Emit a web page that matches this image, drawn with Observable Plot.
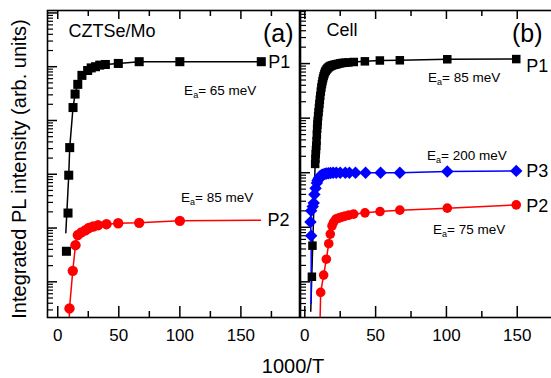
<!DOCTYPE html>
<html><head><meta charset="utf-8">
<script src="https://cdn.jsdelivr.net/npm/d3@7"></script>
<script src="https://cdn.jsdelivr.net/npm/@observablehq/plot@0.6"></script>
<style>
html,body{margin:0;padding:0;background:#fff;overflow:hidden;}
#wrap{position:relative;width:551px;height:378px;overflow:hidden;font-family:"Liberation Sans",Arial,sans-serif;color:#000;}
.panel{position:absolute;top:0;}
#xlab{position:absolute;left:293px;top:356px;transform:translateX(-50%);font-size:20px;line-height:20px;white-space:nowrap;}
#ylabw{position:absolute;left:19px;top:169px;width:0;height:0;}
#ylab{position:absolute;left:0;top:0;transform:translate(-50%,-50%) rotate(-90deg);font-size:20px;line-height:20px;white-space:nowrap;}
</style></head><body>
<div id="wrap">
  <div id="pa" class="panel" style="left:0;width:300px"></div>
  <div id="pb" class="panel" style="left:270px;width:282px"></div>
  <div id="xlab">1000/T</div>
  <div id="ylabw"><div id="ylab">Integrated PL intensity (arb. units)</div></div>
</div>
<script>
// ---------- data: panel (a) CZTSe/Mo ----------
const aP1x = [7.1, 8.4, 9.0, 9.8, 12.5, 14.2, 16.4, 19.8, 24.5, 27.4, 30.9, 34.4, 39.0, 49.6, 66.7, 100, 166.7];
const aP1y = [3.7, 19, 96, 313, 1740, 3100, 4700, 6900, 8500, 9500, 1.0e4, 1.07e4, 1.1e4, 1.15e4, 1.24e4, 1.24e4, 1.24e4];
const aP1fitX = [6.6, 9.0, 9.8, 12.5, 14.2, 16.4, 19.8, 24.5, 27.4, 30.9, 34.4, 39.0, 49.6, 66.7, 100, 166.7];
const aP1fitY = [8.2, 96, 313, 1740, 3100, 4700, 6900, 8500, 9500, 1.0e4, 1.07e4, 1.1e4, 1.15e4, 1.24e4, 1.24e4, 1.24e4];
const aP2x = [9.6, 12.3, 14.5, 16.4, 19.4, 22.7, 25.4, 29.0, 33.1, 39.9, 49.5, 66.7, 100];
const aP2y = [0.32, 1.6, 4.8, 7.4, 8.3, 9.1, 10.0, 10.7, 11.3, 11.8, 12.3, 12.5, 13.6];
const aP2fitX = [9.3, 9.6, 12.3, 14.5, 16.4, 19.4, 22.7, 25.4, 29.0, 33.1, 39.9, 49.5, 66.7, 100, 166];
const aP2fitY = [0.12, 0.32, 1.6, 4.8, 7.4, 8.3, 9.1, 10.0, 10.7, 11.3, 11.8, 12.3, 12.5, 13.6, 14.0];

// ---------- data: panel (b) Cell ----------
const bP1x = [5.0, 5.4, 7.3, 7.5, 7.7, 7.9, 8.1, 8.3, 8.5, 8.7, 8.9, 9.1, 9.4, 9.7, 10.0, 10.3, 10.6, 10.9, 11.3, 11.7, 12.1, 12.5, 12.9, 13.3, 13.8, 14.3, 14.8, 15.4, 16.0, 16.7, 17.4, 18.2, 19.1, 20, 21.1, 22.2, 23.5, 25, 26.7, 28.6, 30.8, 34.6, 42.4, 53, 67.1, 100.6, 149.3];
const bP1y = [1.24, 4.6, 145, 180, 220, 260, 310, 380, 500, 640, 760, 890, 1080, 1290, 1540, 1820, 2170, 2560, 3080, 3650, 4200, 4790, 5350, 5900, 6450, 7000, 7400, 7800, 8150, 8500, 8780, 9040, 9250, 9400, 9550, 9700, 9900, 1.01e4, 1.03e4, 1.04e4, 1.05e4, 1.07e4, 1.1e4, 1.14e4, 1.15e4, 1.2e4, 1.21e4];
const bP1fitX = [4.2, ...bP1x.slice(2)];
const bP1fitY = [0.29, ...bP1y.slice(2)];
const bP3x = [4.5, 4.0, 4.5, 5.6, 6.3, 6.8, 7.6, 8.5, 9.0, 9.5, 10.2, 10.9, 11.8, 12.5, 13.3, 14.3, 15.4, 16.7, 18.2, 20, 22.2, 25, 28.6, 31.5, 35.8, 42.9, 53.5, 67.1, 100.6, 149.3];
const bP3y = [7.0, 12.5, 20, 24, 28, 40, 52, 65, 71, 76, 82, 87, 90, 92, 93, 96, 97, 98, 99, 100, 100, 100, 100, 100, 100, 100, 100, 100, 105, 108];
const bP3fitX = [4.5, ...bP3x];
const bP3fitY = [0.4, ...bP3y];
const bP2x = [11.2, 13.3, 15.2, 16.9, 18.0, 19.2, 20.3, 21.9, 23.4, 25, 26.7, 28.5, 31.2, 34.5, 42.5, 53.1, 67.1, 100.6, 149.3];
const bP2y = [0.64, 1.33, 2.6, 5.0, 7.5, 10.6, 12.3, 14.1, 14.6, 15.0, 15.6, 16.1, 16.7, 17.4, 18.4, 19.4, 20.6, 22.4, 25.7];
const bP2fitX = [10.6, ...bP2x];
const bP2fitY = [0.12, ...bP2y];

const xMajor = [0, 50, 100, 150];
const xMinor = [25, 75, 125, 175];
const panelA = {name: "CZTSe/Mo", tag: "(a)"};
const panelB = {name: "Cell", tag: "(b)"};
const labelsA = [{s: "P1", ea: "65"}, {s: "P2", ea: "85"}];
const labelsB = [{s: "P1", ea: "85"}, {s: "P3", ea: "200"}, {s: "P2", ea: "75"}];

const zip = (xs, ys) => xs.map((x, i) => ({x, y: ys[i]}));
const FONT = "Liberation Sans, Arial, sans-serif";

function yTicks(domain) {
  const maj = [], min = [];
  for (let e = -1; e <= 5; e++) {
    const d = Math.pow(10, e);
    if (d >= domain[0] && d <= domain[1]) maj.push(d);
    for (let k = 2; k <= 9; k++) { const v = k * d; if (v >= domain[0] && v <= domain[1]) min.push(v); }
  }
  return {maj, min};
}

function axes(xDom, yDom) {
  const yt = yTicks(yDom);
  const none = () => "";
  return [
    Plot.axisX({anchor: "bottom", ticks: xMajor, tickSize: -11, tickPadding: 22, tickFormat: d => String(d), label: null, fontSize: 17, strokeWidth: 1.5}),
    Plot.axisX({anchor: "bottom", ticks: xMinor.filter(v => v <= xDom[1]), tickSize: -6, tickFormat: none, label: null, strokeWidth: 1.5}),
    Plot.axisX({anchor: "top", ticks: xMajor, tickSize: -8, tickFormat: none, label: null, strokeWidth: 1.5}),
    Plot.axisX({anchor: "top", ticks: xMinor.filter(v => v <= xDom[1]), tickSize: -5, tickFormat: none, label: null, strokeWidth: 1.5}),
    Plot.axisY({anchor: "left", ticks: yt.maj, tickSize: -10, tickFormat: none, label: null, strokeWidth: 1.5}),
    Plot.axisY({anchor: "left", ticks: yt.min, tickSize: -6, tickFormat: none, label: null, strokeWidth: 1.2}),
    Plot.frame({stroke: "black", strokeWidth: 1.6})
  ];
}

// ---------- panel (a) ----------
const xDomA = [-8.4, 198], yDomA = [0.217, 1.11e5];
const plotA = Plot.plot({
  width: 300, height: 378,
  marginLeft: 47, marginRight: 1, marginTop: 10, marginBottom: 61,
  style: {background: "transparent", fontFamily: FONT, overflow: "visible", color: "black"},
  x: {domain: xDomA},
  y: {type: "log", domain: yDomA},
  marks: [
    ...axes(xDomA, yDomA),
    Plot.line(zip(aP1fitX, aP1fitY), {x: "x", y: "y", stroke: "black", strokeWidth: 1.5, clip: true}),
    Plot.line(zip(aP2fitX, aP2fitY), {x: "x", y: "y", stroke: "#ff0000", strokeWidth: 1.5, clip: true}),
    Plot.dot(zip(aP1x, aP1y), {x: "x", y: "y", symbol: "square", r: 5.1, fill: "black"}),
    Plot.dot(zip(aP2x, aP2y), {x: "x", y: "y", symbol: "circle", r: 5.2, fill: "#ff0000"}),
    Plot.text([panelA.name], {frameAnchor: "top-left", dx: 21, dy: 26, textAnchor: "start", lineAnchor: "bottom", fontSize: 18}),
    Plot.text([panelA.tag], {frameAnchor: "top-right", dx: -6, dy: 31, textAnchor: "end", lineAnchor: "bottom", fontSize: 25}),
    Plot.text([{x: aP1fitX.at(-1), y: aP1fitY.at(-1), s: labelsA[0].s}], {x: "x", y: "y", text: "s", dx: 7, dy: 1, textAnchor: "start", lineAnchor: "middle", fontSize: 18}),
    Plot.text([{x: aP2fitX.at(-1), y: aP2fitY.at(-1), s: labelsA[1].s}], {x: "x", y: "y", text: "s", dx: 7, dy: 0, textAnchor: "start", lineAnchor: "middle", fontSize: 18})
  ]
});
document.getElementById("pa").appendChild(plotA);

// ---------- panel (b) ----------
const xDomB = [-3.04, 174.9], yDomB = [0.222, 9.4e4];
const plotB = Plot.plot({
  width: 282, height: 378,
  marginLeft: 30, marginRight: 0, marginTop: 10, marginBottom: 61,
  style: {background: "transparent", fontFamily: FONT, overflow: "visible", color: "black"},
  x: {domain: xDomB},
  y: {type: "log", domain: yDomB},
  marks: [
    ...axes(xDomB, yDomB),
    Plot.line(zip(bP1fitX, bP1fitY), {x: "x", y: "y", stroke: "black", strokeWidth: 1.5, clip: true}),
    Plot.line(zip(bP3fitX, bP3fitY), {x: "x", y: "y", stroke: "#0000ff", strokeWidth: 1.5, clip: true}),
    Plot.line(zip(bP2fitX, bP2fitY), {x: "x", y: "y", stroke: "#ff0000", strokeWidth: 1.5, clip: true}),
    Plot.dot(zip(bP1x, bP1y), {x: "x", y: "y", symbol: "square", r: 4.8, fill: "black"}),
    Plot.dot(zip(bP3x, bP3y), {x: "x", y: "y", symbol: "diamond2", r: 5.6, fill: "#0000ff"}),
    Plot.dot(zip(bP2x, bP2y), {x: "x", y: "y", symbol: "circle", r: 4.8, fill: "#ff0000"}),
    Plot.text([panelB.name], {frameAnchor: "top-left", dx: 26, dy: 25, textAnchor: "start", lineAnchor: "bottom", fontSize: 18}),
    Plot.text([panelB.tag], {frameAnchor: "top-right", dx: -10, dy: 31, textAnchor: "end", lineAnchor: "bottom", fontSize: 25}),
    Plot.text([{x: bP1x.at(-1), y: bP1y.at(-1), s: labelsB[0].s}], {x: "x", y: "y", text: "s", dx: 10, dy: 7, textAnchor: "start", lineAnchor: "middle", fontSize: 18}),
    Plot.text([{x: bP3x.at(-1), y: bP3y.at(-1), s: labelsB[1].s}], {x: "x", y: "y", text: "s", dx: 10, dy: 0, textAnchor: "start", lineAnchor: "middle", fontSize: 18}),
    Plot.text([{x: bP2x.at(-1), y: bP2y.at(-1), s: labelsB[2].s}], {x: "x", y: "y", text: "s", dx: 10, dy: 1, textAnchor: "start", lineAnchor: "middle", fontSize: 18})
  ]
});
document.getElementById("pb").appendChild(plotB);

// ---------- activation-energy annotations (E with subscript a) ----------
function ea(svg, xv, yv, val) {
  const sx = svg.scale("x"), sy = svg.scale("y");
  const t = d3.select(svg).append("text")
    .attr("x", sx.apply(xv)).attr("y", sy.apply(yv))
    .attr("text-anchor", "start")
    .attr("font-family", FONT).attr("font-size", 13.5).attr("fill", "black");
  t.append("tspan").text("E");
  t.append("tspan").attr("font-size", 9).attr("dy", 3).text("a");
  t.append("tspan").attr("dy", -3).text("= " + val + " meV");
}
ea(plotA, 103.9, 2865, labelsA[0].ea);
ea(plotA, 101.4, 29.8, labelsA[1].ea);
ea(plotB, 87.4, 4470, labelsB[0].ea);
ea(plotB, 86.7, 169, labelsB[1].ea);
ea(plotB, 90.9, 7.48, labelsB[2].ea);
</script>
</body></html>
